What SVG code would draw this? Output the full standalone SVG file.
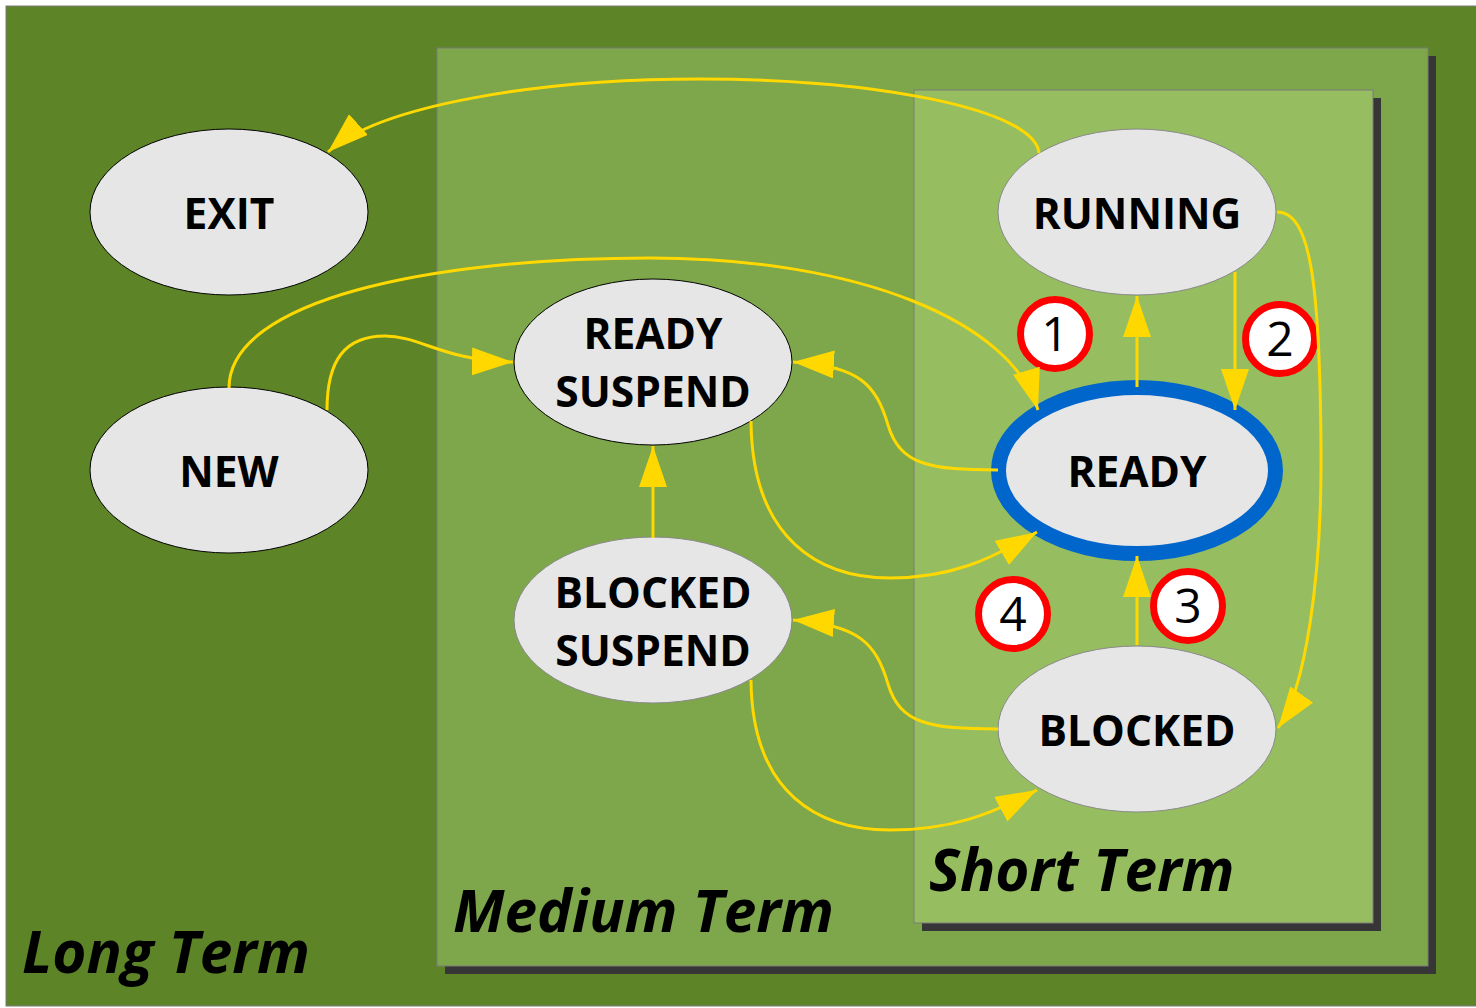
<svg xmlns="http://www.w3.org/2000/svg" width="1476" height="1008" viewBox="0 0 1476 1008">
<defs>
<style>
.box{stroke:#7a7a7a;stroke-width:1}
.shadow{fill:#363636}
.node{fill:#e6e6e6}
.nb{stroke:#000;stroke-width:1}
.ng{stroke:#888;stroke-width:1}
.lbl{font-family:"Open Sans","Liberation Sans",sans-serif;font-weight:bold;font-size:42.5px;fill:#000;text-anchor:middle}
.title{font-family:"Open Sans","Liberation Sans",sans-serif;font-weight:bold;font-style:italic;font-size:58.5px;fill:#000}
.badge circle{fill:#fff;stroke:#ff0000;stroke-width:7}
.badge text{font-family:"Open Sans","Liberation Sans",sans-serif;font-size:48px;fill:#000;text-anchor:middle}
.conn path{fill:none;stroke:#ffd800;stroke-width:3}
</style>
<marker id="ah" markerUnits="userSpaceOnUse" markerWidth="42" markerHeight="28" refX="41" refY="14" orient="auto">
<path d="M0,0 L41,14 L0,28 z" fill="#ffd800"/>
</marker>
</defs>

<g id="long-term">
<rect class="box" x="6" y="6" width="1476" height="1000" fill="#5d8528"/>
<text class="title" x="22" y="973">Long Term</text>
</g>
<g id="medium-term">
<rect class="shadow" x="445" y="56" width="991" height="918"/>
<rect class="box" x="437" y="48" width="991" height="918" fill="#7ea64a"/>
<text class="title" x="453" y="932">Medium Term</text>
</g>
<g id="short-term">
<rect class="shadow" x="922" y="98" width="459" height="833"/>
<rect class="box" x="914" y="90" width="459" height="833" fill="#96be60"/>
<text class="title" x="929" y="891">Short Term</text>
</g>

<g id="exit"><ellipse class="node nb" cx="229" cy="212" rx="139" ry="83"/><text class="lbl" x="229" y="229">EXIT</text></g>
<g id="new"><ellipse class="node nb" cx="229" cy="470" rx="139" ry="83"/><text class="lbl" x="229" y="487">NEW</text></g>
<g id="ready-suspend"><ellipse class="node nb" cx="653" cy="362" rx="139" ry="83"/><text class="lbl" x="653" y="349">READY</text><text class="lbl" x="653" y="407">SUSPEND</text></g>
<g id="blocked-suspend"><ellipse class="node ng" cx="653" cy="620" rx="139" ry="83"/><text class="lbl" x="653" y="608">BLOCKED</text><text class="lbl" x="653" y="666">SUSPEND</text></g>
<g id="running"><ellipse class="node ng" cx="1137" cy="212" rx="139" ry="83"/><text class="lbl" x="1137" y="229">RUNNING</text></g>
<g id="ready"><ellipse class="node" cx="1137" cy="470.5" rx="138.5" ry="83" stroke="#0066cc" stroke-width="15"/><text class="lbl" x="1137" y="487">READY</text></g>
<g id="blocked"><ellipse class="node ng" cx="1137" cy="729" rx="139" ry="83"/><text class="lbl" x="1137" y="746">BLOCKED</text></g>

<g id="badge-1" class="badge"><circle cx="1055" cy="334" r="34.5"/><text x="1055" y="351">1</text></g>
<g id="badge-2" class="badge"><circle cx="1280" cy="339" r="34.5"/><text x="1280" y="356">2</text></g>
<g id="badge-3" class="badge"><circle cx="1188" cy="606" r="34.5"/><text x="1188" y="623">3</text></g>
<g id="badge-4" class="badge"><circle cx="1013" cy="614" r="34.5"/><text x="1013" y="631">4</text></g>

<g id="connectors" class="conn">
<path marker-end="url(#ah)" d="M1039,153 C1035,110 880,79 700,79 C540,79 380,105 328,152"/>
<path marker-end="url(#ah)" d="M229,388 C229,300 430,258 650,258 C860,258 1012,322 1038,410"/>
<path marker-end="url(#ah)" d="M327,410 C327,360 345,336 385,336 C420,336 445,361 513,362"/>
<path marker-end="url(#ah)" d="M998,470 C930,470 900,465 888,425 C876,385 860,366 793,362"/>
<path marker-end="url(#ah)" d="M751,421 C752,540 820,578 890,578 C950,578 990,560 1037,532"/>
<path marker-end="url(#ah)" d="M653,538 L653,446"/>
<path marker-end="url(#ah)" d="M998,729 C930,729 900,724 888,684 C876,644 860,625 793,620"/>
<path marker-end="url(#ah)" d="M751,680 C752,795 820,830 890,830 C950,830 990,815 1037,790"/>
<path marker-end="url(#ah)" d="M1137,387 L1137,296"/>
<path marker-end="url(#ah)" d="M1235,272 L1235,410"/>
<path marker-end="url(#ah)" d="M1137,645 L1137,556"/>
<path marker-end="url(#ah)" d="M1277,212 C1310,212 1320,280 1321,450 C1322,580 1305,690 1278,728"/>
</g>
</svg>
